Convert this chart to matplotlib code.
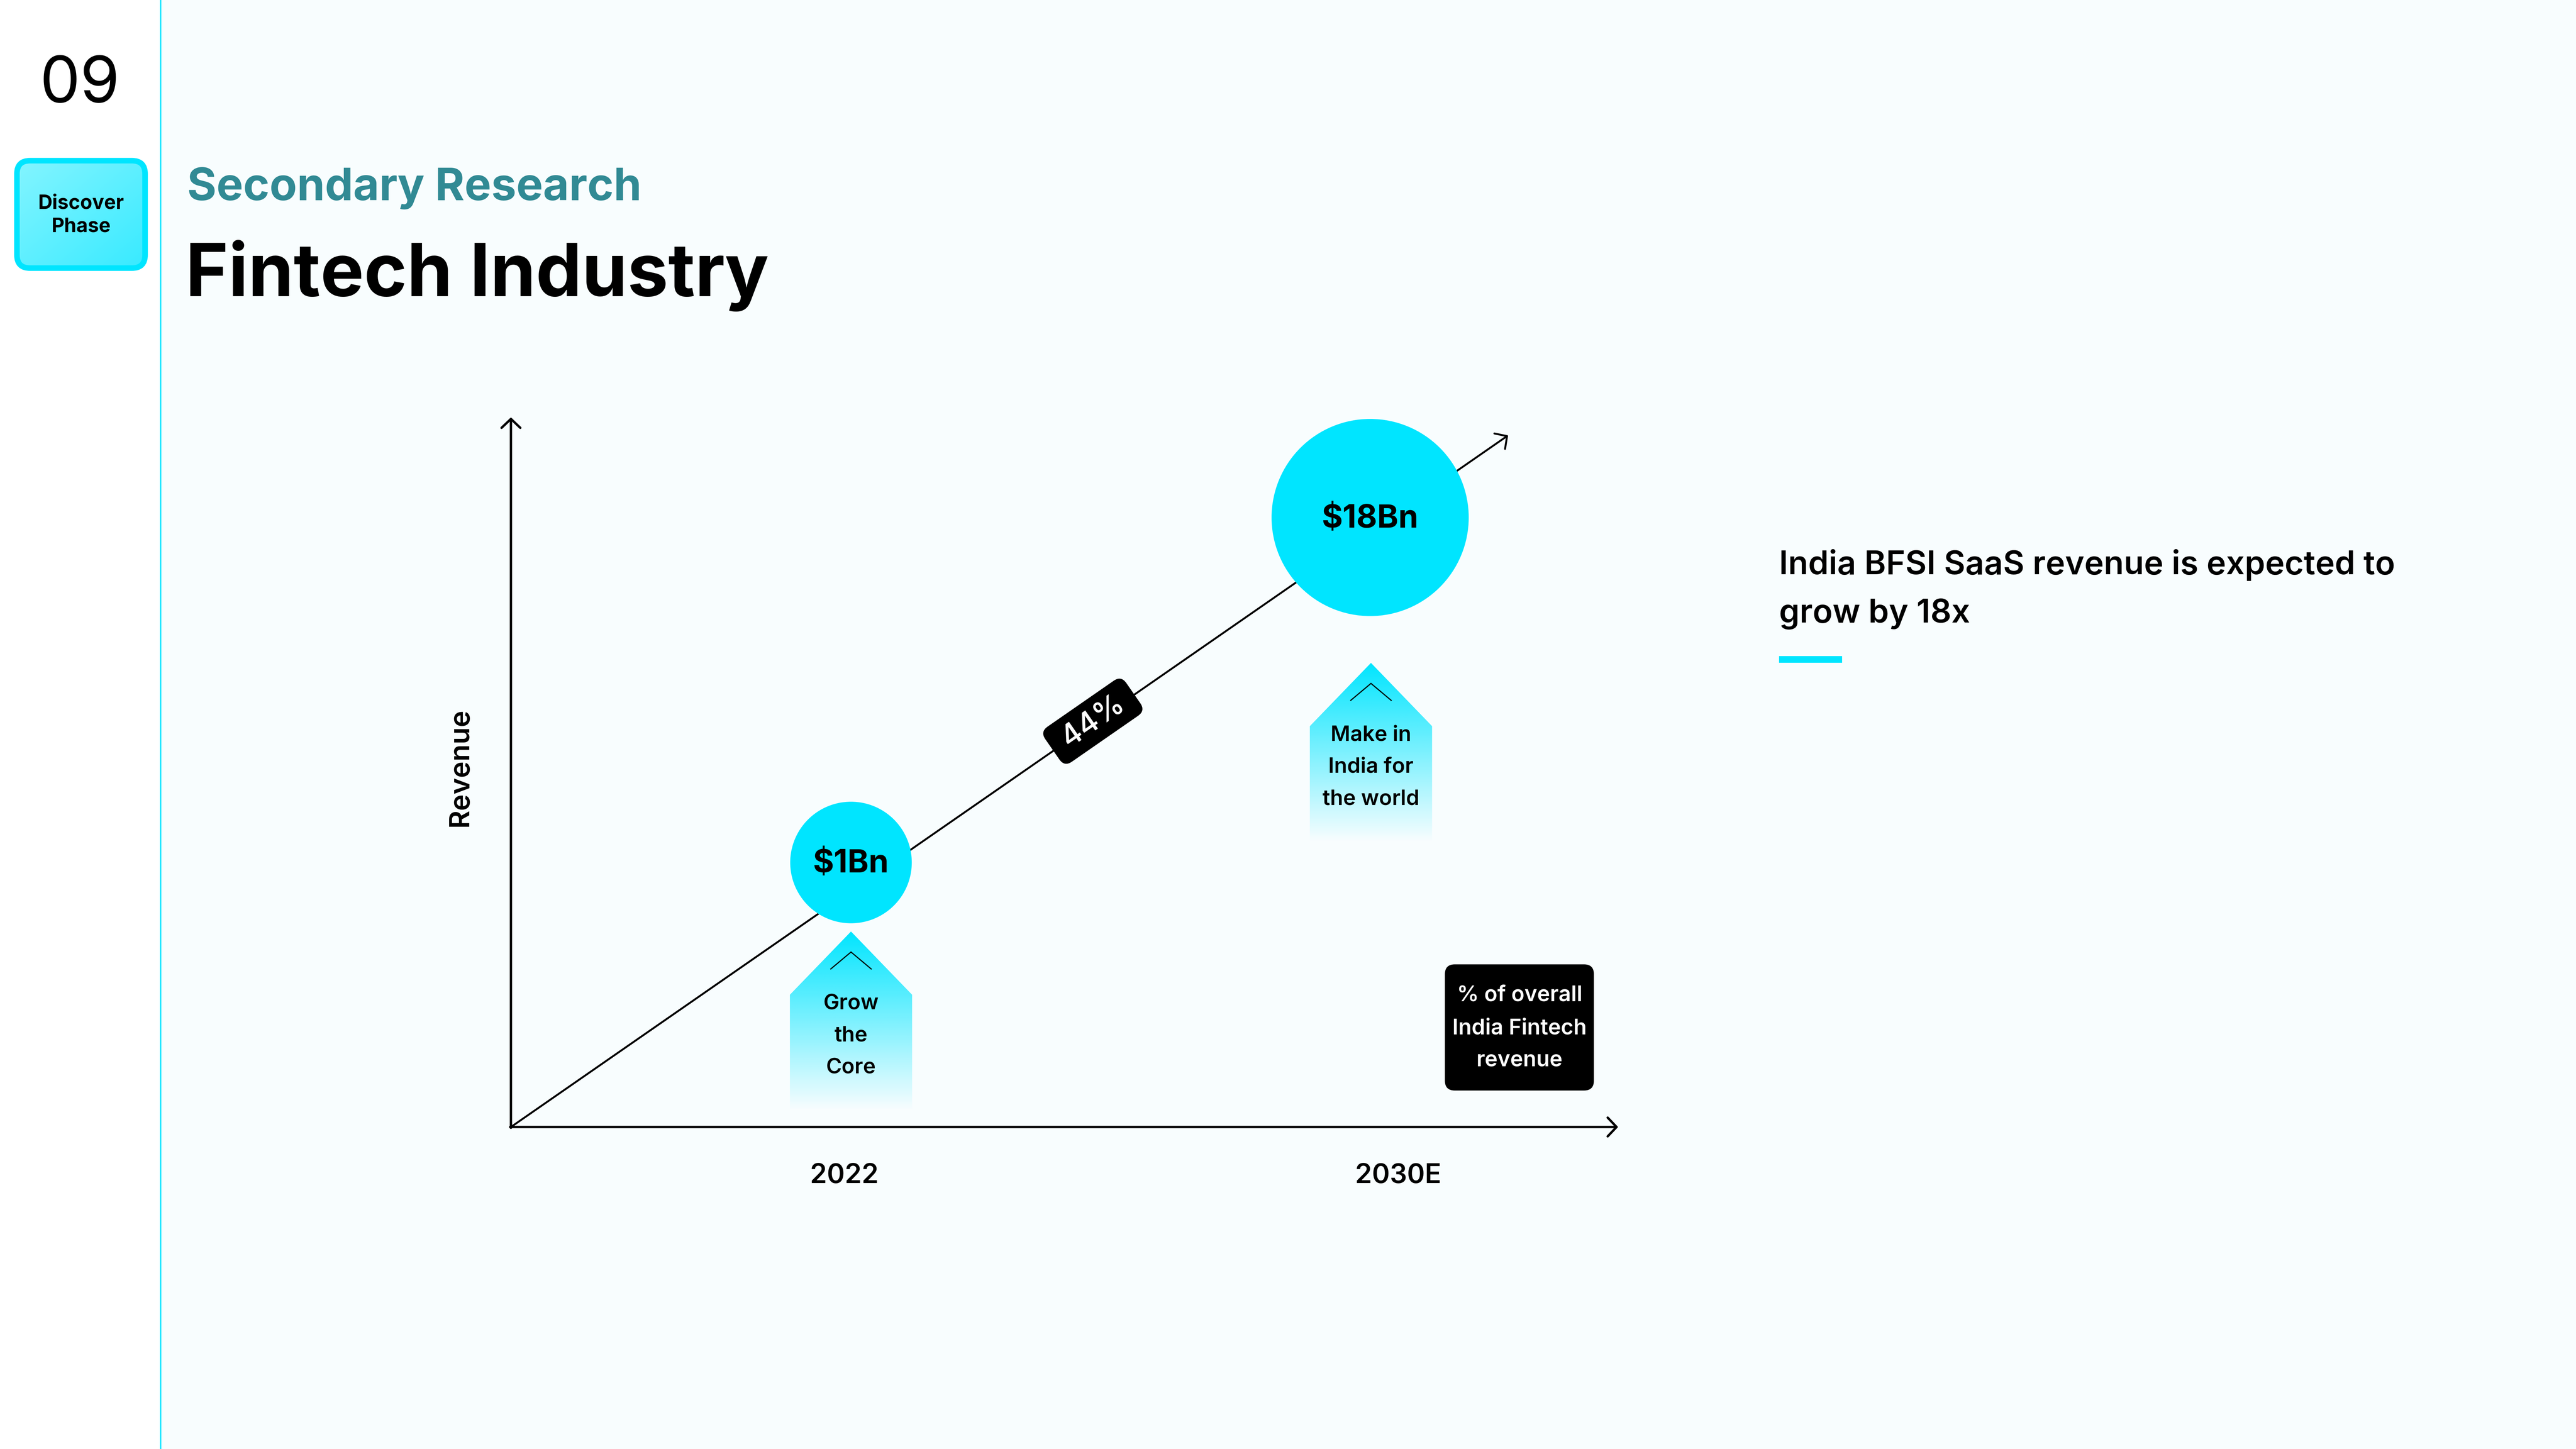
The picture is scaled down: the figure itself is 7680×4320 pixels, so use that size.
import numpy as np
import matplotlib
matplotlib.use("Agg")
import matplotlib.pyplot as plt
from matplotlib.patches import Circle, FancyBboxPatch, Polygon, Rectangle
import matplotlib.transforms as mtransforms

# ---------------- data ----------------
page_number = "09"
phase_lines = ["Discover", "Phase"]
section_title = "Secondary Research"
page_title = "Fintech Industry"
y_axis_label = "Revenue"
years = ["2022", "2030E"]
revenue_bn = [1, 18]
revenue_labels = ["$1Bn", "$18Bn"]
cagr_label = "44%"
pillar_labels = [["Grow", "the", "Core"], ["Make in", "India for", "the world"]]
note_lines = ["% of overall", "India Fintech", "revenue"]
insight_lines = ["India BFSI SaaS revenue is expected to", "grow by 18x"]

# ---------------- layout (reference px units) ----------------
W, H = 1568, 882
PT = 72 * 9 / H          # reference px -> points
CYAN = "#00E5FF"
TEAL = "#318A94"
FONT = ["Inter", "DejaVu Sans"]
plt.rcParams["font.family"] = FONT

bubble_x = [518, 834]
bubble_y = [525, 315]
bubble_r = [37, 60]
year_x = [514, 851]
pillar_x = [518, 834.5]
pillar_apex = [567, 403.5]
pillar_line_dy = [44, 63.5, 83]
note_line_y = [606, 626, 645.5]

fig = plt.figure(figsize=(16, 9), dpi=480)
fig.patch.set_facecolor("#F8FDFE")
ax = fig.add_axes([0, 0, 1, 1])
ax.set_xlim(0, W)
ax.set_ylim(H, 0)
ax.axis("off")

# left strip + divider
ax.add_patch(Rectangle((0, 0), 97.8, H, facecolor="white", edgecolor="none", zorder=0))
ax.plot([97.8, 97.8], [0, H], color=CYAN, lw=0.6, zorder=1)

# page number
ax.text(48.5, 52, page_number, ha="center", va="center", fontsize=39 * PT,
        color="black", fontweight="normal")

# phase badge with gradient fill
bx0, by0, bw, bh = 10.3, 97.8, 78.0, 65.4
badge = FancyBboxPatch((bx0, by0), bw, bh, boxstyle="round,pad=0,rounding_size=8",
                       facecolor="none", edgecolor=CYAN, lw=3.4 * PT, zorder=3)
ax.add_patch(badge)
gx, gy = np.meshgrid(np.linspace(0, 1, 200), np.linspace(0, 1, 200))
t = (gx + gy) / 2
c0 = np.array([0x84, 0xF5, 0xFF]) / 255
c1 = np.array([0x38, 0xEA, 0xFF]) / 255
grad = c0[None, None, :] * (1 - t[..., None]) + c1[None, None, :] * t[..., None]
im = ax.imshow(grad, extent=(bx0, bx0 + bw, by0 + bh, by0), origin="upper",
               aspect="auto", zorder=2, interpolation="bilinear")
im.set_clip_path(badge)
for line, yy in zip(phase_lines, [124, 138]):
    ax.text(49.2, yy, line, ha="center", va="center", fontsize=12 * PT,
            fontweight="bold", color="black", zorder=4)

# titles
ax.text(114, 121.7, section_title, ha="left", va="baseline", fontsize=27.3 * PT,
        fontweight="bold", color=TEAL)
ax.text(113, 180.3, page_title, ha="left", va="baseline", fontsize=44.5 * PT,
        fontweight="bold", color="black")

# axes arrows
arrow_kw = dict(arrowstyle="->,head_length=0.4,head_width=0.42", mutation_scale=10,
                lw=1.05, color="black", shrinkA=0, shrinkB=0,
                capstyle="round", joinstyle="round")
ox, oy = 311, 686
ax.annotate("", xy=(ox, 254), xytext=(ox, oy + 0.5), arrowprops=arrow_kw, zorder=2)
ax.annotate("", xy=(985, oy), xytext=(ox - 0.5, oy), arrowprops=arrow_kw, zorder=2)
diag_kw = dict(arrow_kw)
diag_kw["lw"] = 0.85
ax.annotate("", xy=(918, 265), xytext=(ox, oy), arrowprops=diag_kw, zorder=2)

ax.text(280, 467, y_axis_label, rotation=90, ha="center", va="center",
        fontsize=17 * PT, fontweight="semibold", color="black")

for yl, xx in zip(years, year_x):
    ax.text(xx, 720, yl, ha="center", va="baseline", fontsize=16.5 * PT,
            fontweight="semibold", color="black")

# bubbles
for lab, val, cx, cy, r in zip(revenue_labels, revenue_bn, bubble_x, bubble_y, bubble_r):
    ax.add_patch(Circle((cx, cy), r, facecolor=CYAN, edgecolor="none", zorder=4))
    ax.text(cx, cy + 1, lab, ha="center", va="center", fontsize=19.5 * PT,
            fontweight="bold", color="black", zorder=5)

# pillars (house shapes with fading gradient)
half_w, shoulder, height = 37.2, 38.5, 109
for lines, px, pa in zip(pillar_labels, pillar_x, pillar_apex):
    poly = Polygon([(px, pa), (px + half_w, pa + shoulder), (px + half_w, pa + height),
                    (px - half_w, pa + height), (px - half_w, pa + shoulder)],
                   closed=True, facecolor="none", edgecolor="none", zorder=3)
    ax.add_patch(poly)
    alpha = np.linspace(1.0, 0.0, 256)[:, None]
    rgba = np.zeros((256, 2, 4))
    rgba[..., 1] = 0xE5 / 255
    rgba[..., 2] = 1.0
    rgba[..., 3] = alpha
    pim = ax.imshow(rgba, extent=(px - half_w, px + half_w, pa + height, pa),
                    origin="upper", aspect="auto", zorder=3, interpolation="bilinear")
    pim.set_clip_path(poly)
    ax.plot([px - 12.3, px, px + 12.3], [pa + 22.8, pa + 12.5, pa + 22.8],
            color="black", lw=0.5, zorder=4, solid_joinstyle="miter")
    for line, dy in zip(lines, pillar_line_dy):
        ax.text(px, pa + dy, line, ha="center", va="center", fontsize=13 * PT,
                fontweight="semibold", color="black", zorder=5)

# CAGR badge on the diagonal
ang = np.degrees(np.arctan2(oy - 265, 918 - ox))
bcx, bcy = 665.2, 439.0
L, Hh = 60, 26
tag = FancyBboxPatch((-L / 2, -Hh / 2), L, Hh, boxstyle="round,pad=0,rounding_size=5.5",
                     facecolor="black", edgecolor="none", zorder=6)
tag.set_transform(mtransforms.Affine2D().rotate_deg(-ang).translate(bcx, bcy) + ax.transData)
ax.add_patch(tag)
ax.text(bcx, bcy, cagr_label, rotation=ang, rotation_mode="anchor", ha="center",
        va="center", fontsize=18.5 * PT, fontweight="medium", color="white", zorder=7)

# note box
ax.add_patch(FancyBboxPatch((879.5, 587), 90.7, 76.8, boxstyle="round,pad=0,rounding_size=6",
                            facecolor="black", edgecolor="none", zorder=4))
for line, yy in zip(note_lines, note_line_y):
    ax.text(925, yy, line, ha="center", va="center", fontsize=13.2 * PT,
            fontweight="semibold", color="white", zorder=5)

# insight text
for i, line in enumerate(insight_lines):
    ax.text(1083, 349.5 + 29.4 * i, line, ha="left", va="baseline", fontsize=20 * PT,
            fontweight="semibold", color="black")
ax.add_patch(Rectangle((1082.8, 399.3), 38.5, 4.1, facecolor=CYAN, edgecolor="none"))

ax.set_xlim(0, W)
ax.set_ylim(H, 0)
fig.savefig("out.png", dpi=480, facecolor=fig.get_facecolor())
